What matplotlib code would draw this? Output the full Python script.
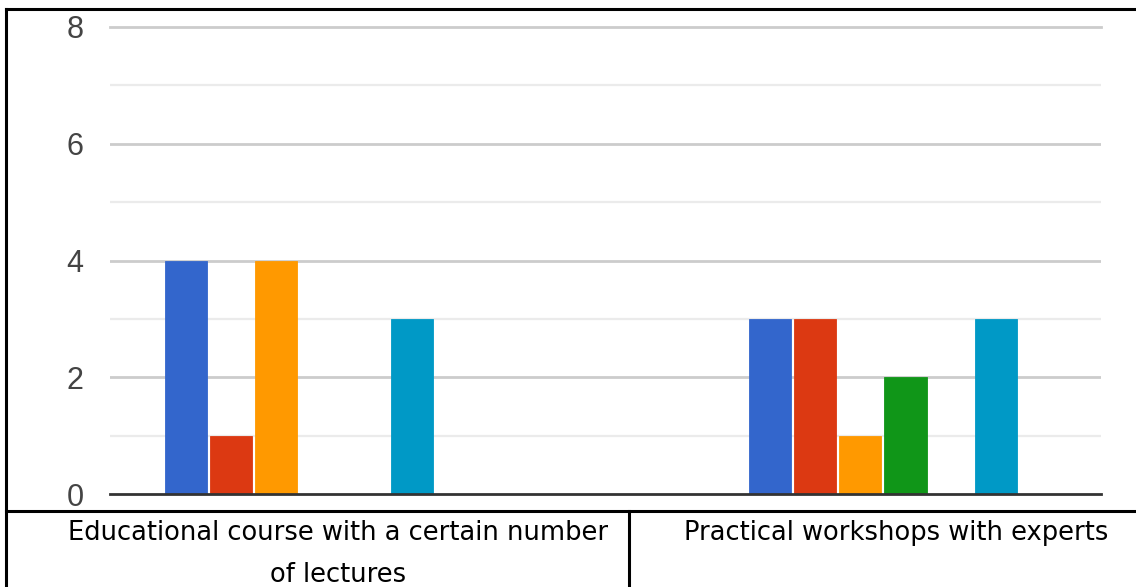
import numpy as np
import matplotlib
matplotlib.use("Agg")
from matplotlib import pyplot as plt
from matplotlib.lines import Line2D

# answers per option, one list per category
categories = ["Educational course with a certain number\nof lectures",
              "Practical workshops with experts"]
series_colors = ["#3366cc", "#dc3912", "#ff9900", "#109618",
                 "#990099", "#0099c6", "#dd4477", "#66aa00"]
course_counts = [4, 1, 4, 0, 0, 3, 0, 0]
workshop_counts = [3, 3, 1, 2, 0, 3, 0, 0]
y_ticks = [0, 2, 4, 6, 8]

counts = np.array([course_counts, workshop_counts])
n_series = counts.shape[1]
pitch = 0.0774

fig = plt.figure(figsize=(11.36, 5.87), dpi=100)
ax = fig.add_axes([110 / 1136, 1 - 494 / 587, (1101 - 110) / 1136, (494 - 27) / 587])

x = np.arange(len(categories))
for j in range(n_series):
    pos = x + (j - (n_series - 1) / 2) * pitch
    ax.bar(pos, counts[:, j], width=pitch * 0.94, color=series_colors[j],
           edgecolor=series_colors[j], linewidth=0.6, zorder=3)

ax.set_xlim(-0.4007, 1.2962)
ax.set_ylim(0, 8)

# grid: major every 2, lighter minor lines in between
for v in range(1, 8):
    if v % 2 == 0:
        ax.axhline(v, color="#cccccc", lw=2.0, zorder=1)
    else:
        ax.axhline(v, color="#ebebeb", lw=1.6, zorder=1)
ax.axhline(8, color="#cccccc", lw=2.0, zorder=1, clip_on=False)
ax.axhline(0, color="#333333", lw=2.0, zorder=4, clip_on=False)

ax.set_yticks(y_ticks)
ax.set_yticklabels([str(t) for t in y_ticks], fontsize=22, color="#444444",
                   family="Liberation Sans")
ax.tick_params(axis="y", length=0, pad=19)
ax.set_xticks([])
for s in ax.spines.values():
    s.set_visible(False)

# outer frame and the label row underneath
frame = dict(color="black", lw=2.2, transform=fig.transFigure)
fig.add_artist(Line2D([6 / 1136, 1], [1 - 9 / 587, 1 - 9 / 587], **frame))
fig.add_artist(Line2D([6 / 1136, 6 / 1136], [0, 1 - 9 / 587], **frame))
fig.add_artist(Line2D([6 / 1136, 1], [1 - 511 / 587, 1 - 511 / 587], **frame))
fig.add_artist(Line2D([629 / 1136, 629 / 1136], [0, 1 - 511 / 587], **frame))

label_x = [338, 896]
for lx, lab in zip(label_x, categories):
    fig.text(lx / 1136, 1 - 520 / 587, lab, ha="center", va="top",
             fontsize=18.5, linespacing=1.78,
             family=["Liberation Sans Narrow", "DejaVu Sans"])

fig.savefig("out.png", dpi=100)
